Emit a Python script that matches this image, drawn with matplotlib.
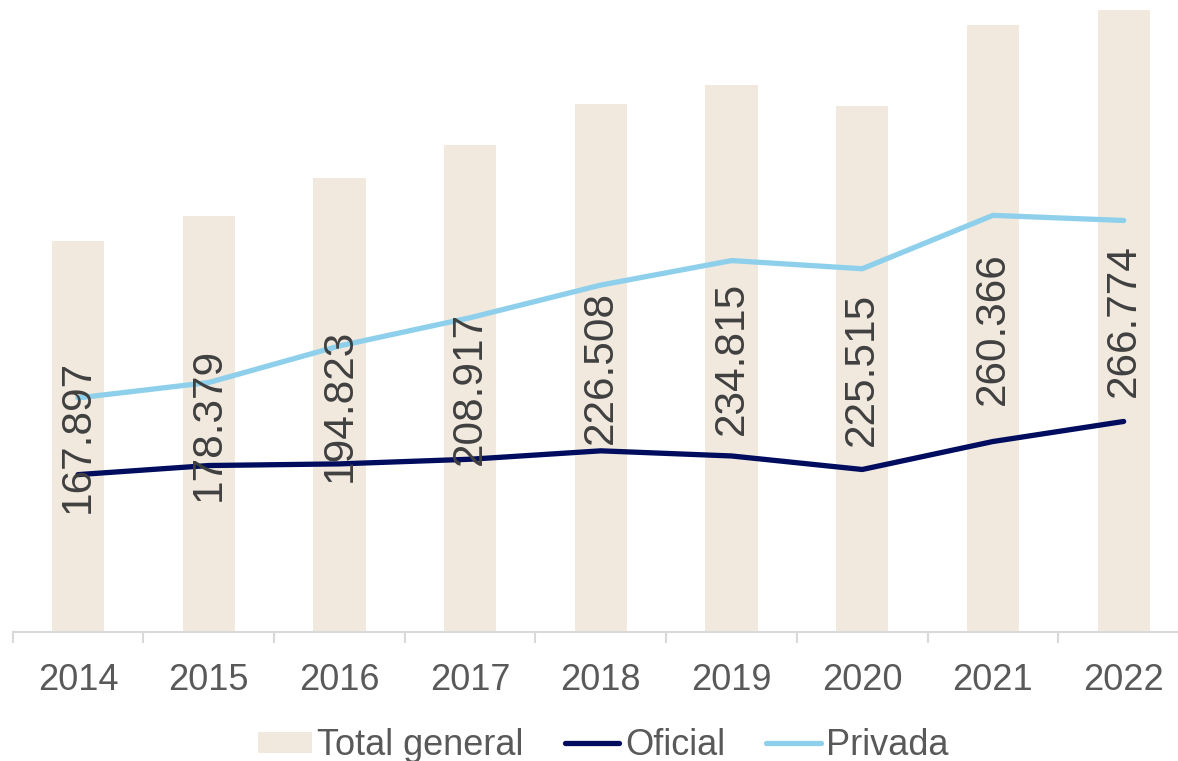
import matplotlib
matplotlib.use("Agg")
import matplotlib.pyplot as plt
import numpy as np

plt.rcParams['font.family'] = ['Liberation Sans', 'DejaVu Sans']

years = ["2014", "2015", "2016", "2017", "2018", "2019", "2020", "2021", "2022"]
total_general = [167.897, 178.379, 194.823, 208.917, 226.508, 234.815, 225.515, 260.366, 266.774]
oficial = [67.5, 71.4, 72.1, 74.1, 77.7, 75.5, 69.7, 81.7, 90.3]
privada = [100.4, 107.0, 122.7, 134.8, 148.8, 159.3, 155.8, 178.7, 176.5]
labels = ["167.897", "178.379", "194.823", "208.917", "226.508",
          "234.815", "225.515", "260.366", "266.774"]

W, H = 1178, 761
fig = plt.figure(figsize=(W / 100, H / 100), dpi=100)
ax = fig.add_axes([12.6 / W, (H - 632) / H, (1189 - 12.6) / W, 632 / H])

x = np.arange(len(years))
bar_color = "#F1E9DD"
bars = ax.bar(x, total_general, width=0.4, color=bar_color, label="Total general", zorder=1)
l_of, = ax.plot(x, oficial, color="#000C5E", lw=3.8, solid_capstyle="round",
                solid_joinstyle="round", label="Oficial", zorder=2)
l_pr, = ax.plot(x, privada, color="#8ED0EB", lw=3.8, solid_capstyle="round",
                solid_joinstyle="round", label="Privada", zorder=2)

for xi, v, t in zip(x, total_general, labels):
    ax.text(xi, v / 2, t, rotation=90, ha="center", va="center",
            fontsize=30.5, color="#404040", zorder=3)

ax.set_xlim(-0.5, 8.5)
ax.set_ylim(0, 266.774 * 632 / 622)
ax.set_yticks([])
for s in ["left", "right", "top"]:
    ax.spines[s].set_visible(False)
ax.spines["bottom"].set_color("#D9D9D9")
ax.spines["bottom"].set_linewidth(1.5)

ax.set_xticks(x)
ax.set_xticklabels(years, fontsize=26, color="#595959")
ax.tick_params(axis="x", which="major", length=0, pad=22)
ax.set_xticks(np.arange(-0.5, 9.0, 1.0), minor=True)
ax.tick_params(axis="x", which="minor", length=8, width=1.5, color="#D9D9D9")

fig.legend([bars, l_of, l_pr], ["Total general", "Oficial", "Privada"],
           loc="center", bbox_to_anchor=(0.512, 0.02),
           ncol=3, frameon=False, fontsize=26, handlelength=1.5,
           handleheight=0.55, handletextpad=0.15, columnspacing=1.15,
           labelcolor="#595959")

fig.savefig("out.png", dpi=100)
